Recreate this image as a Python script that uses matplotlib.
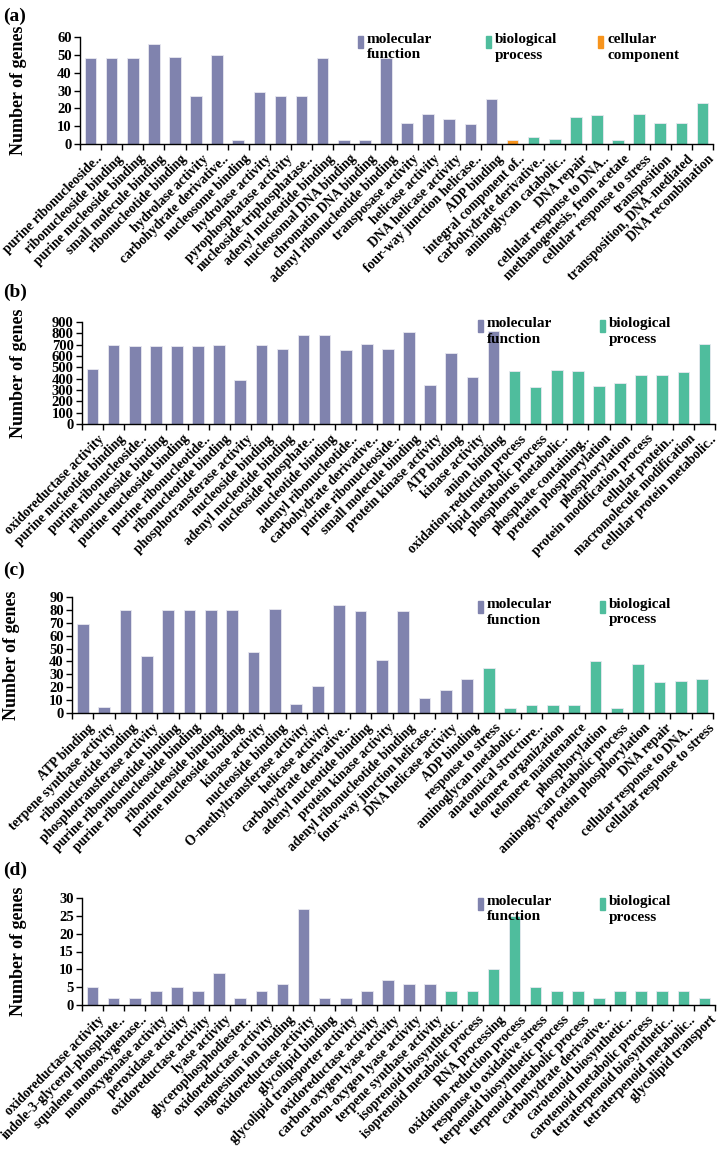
import matplotlib
matplotlib.use("Agg")
import matplotlib.pyplot as plt
from matplotlib.patches import Rectangle
from matplotlib.transforms import ScaledTranslation
import numpy as np

plt.rcParams["font.family"] = ["Liberation Serif", "DejaVu Serif"]
plt.rcParams["font.weight"] = "bold"
plt.rcParams["axes.labelweight"] = "bold"

PURPLE = "#8083AE"
GREEN = "#4FBD9D"
ORANGE = "#F7941D"

# ---- panel (a) ----------------------------------------------------------
a_labels = [
    "purine ribonucleoside..", "ribonucleoside binding", "purine nucleoside binding",
    "small molecule binding", "ribonucleotide binding", "hydrolase activity",
    "carbohydrate derivative..", "nucleosome binding", "hydrolase activity",
    "pyrophosphatase activity", "nucleoside-triphosphatase..", "adenyl nucleotide binding",
    "nucleosomal DNA binding", "chromatin DNA binding", "adenyl ribonucleotide binding",
    "transposase activity", "helicase activity", "DNA helicase activity",
    "four-way junction helicase..", "ADP binding", "integral component of..",
    "carbohydrate derivative..", "aminoglycan catabolic..", "DNA repair",
    "cellular response to DNA..", "methanogenesis, from acetate",
    "cellular response to stress", "transposition", "transposition, DNA-mediated",
    "DNA recombination",
]
a_values = [48, 48, 48, 56, 49, 27, 50, 2, 29, 27, 27, 48, 2, 2, 48, 12, 17, 14, 11, 25,
            2, 4, 3, 15, 16, 2, 17, 12, 12, 23]
a_groups = ["mf"] * 20 + ["cc"] + ["bp"] * 9

# ---- panel (b) ----------------------------------------------------------
b_labels = [
    "oxidoreductase activity", "purine nucleotide binding", "purine ribonucleoside..",
    "ribonucleoside binding", "purine nucleoside binding", "purine ribonucleotide..",
    "ribonucleotide binding", "phosphotransferase activity", "nucleoside binding",
    "adenyl nucleotide binding", "nucleoside phosphate..", "nucleotide binding",
    "adenyl ribonucleotide..", "carbohydrate derivative..", "purine ribonucleoside..",
    "small molecule binding", "protein kinase activity", "ATP binding",
    "kinase activity", "anion binding", "oxidation-reduction process",
    "lipid metabolic process", "phosphorus metabolic..", "phosphate-containing..",
    "protein phosphorylation", "phosphorylation", "protein modification process",
    "cellular protein..", "macromolecule modification", "cellular protein metabolic..",
]
b_values = [485, 700, 688, 688, 688, 690, 700, 385, 693, 662, 787, 787, 657, 710, 663,
            812, 345, 625, 413, 820, 470, 325, 475, 470, 333, 363, 430, 430, 458, 708]
b_groups = ["mf"] * 20 + ["bp"] * 10

# ---- panel (c) ----------------------------------------------------------
c_labels = [
    "ATP binding", "terpene synthase activity", "ribonucleotide binding",
    "phosphotransferase activity", "purine ribonucleotide binding",
    "purine ribonucleoside binding", "ribonucleoside binding", "purine nucleoside binding",
    "kinase activity", "nucleoside binding", "O-methyltransferase activity",
    "helicase activity", "carbohydrate derivative..", "adenyl nucleotide binding",
    "protein kinase activity", "adenyl ribonucleotide binding",
    "four-way junction helicase..", "DNA helicase activity", "ADP binding",
    "response to stress", "aminoglycan metabolic..", "anatomical structure..",
    "telomere organization", "telomere maintenance", "phosphorylation",
    "aminoglycan catabolic process", "protein phosphorylation", "DNA repair",
    "cellular response to DNA..", "cellular response to stress",
]
c_values = [69, 5, 80, 44, 80, 80, 80, 80, 47, 81, 7, 21, 84, 79, 41, 79, 12, 18, 26,
            35, 4, 6, 6, 6, 40, 4, 38, 24, 25, 26]
c_groups = ["mf"] * 19 + ["bp"] * 11

# ---- panel (d) ----------------------------------------------------------
d_labels = [
    "oxidoreductase activity", "indole-3-glycerol-phosphate..", "squalene monooxygenase..",
    "monooxygenase activity", "peroxidase activity", "oxidoreductase activity",
    "lyase activity", "glycerophosphodiester..", "oxidoreductase activity",
    "magnesium ion binding", "oxidoreductase activity", "glycolipid binding",
    "glycolipid transporter activity", "oxidoreductase activity",
    "carbon-oxygen lyase activity", "carbon-oxygen lyase activity",
    "terpene synthase activity", "isoprenoid biosynthetic..",
    "isoprenoid metabolic process", "RNA processing", "oxidation-reduction process",
    "response to oxidative stress", "terpenoid biosynthetic process",
    "terpenoid metabolic process", "carbohydrate derivative..",
    "carotenoid biosynthetic..", "carotenoid metabolic process",
    "tetraterpenoid biosynthetic..", "tetraterpenoid metabolic..", "glycolipid transport",
]
d_values = [5, 2, 2, 4, 5, 4, 9, 2, 4, 6, 27, 2, 2, 4, 7, 6, 6,
            4, 4, 10, 25, 5, 4, 4, 2, 4, 4, 4, 4, 2]
d_groups = ["mf"] * 17 + ["bp"] * 13

COLORS = {"mf": PURPLE, "bp": GREEN, "cc": ORANGE}

W, H = 718, 1149
fig = plt.figure(figsize=(W / 100, H / 100), dpi=100)


def px_axes(left, right, top, bottom):
    return fig.add_axes([left / W, 1 - bottom / H, (right - left) / W, (bottom - top) / H])


def legend_item(x, y, color, lines):
    fig.patches.append(Rectangle((x / W, 1 - (y + 15) / H), 5 / W, 12 / H,
                                 transform=fig.transFigure, color=color))
    fig.text((x + 9) / W, 1 - y / H, lines, fontsize=11, va="top", ha="left",
             linespacing=1.25, fontweight="bold")


def draw_panel(ax, labels, values, groups, ymax, ystep):
    x = np.arange(len(values))
    ax.bar(x, values, width=0.55, color=[COLORS[g] for g in groups],
           edgecolor="#E8E8F0", linewidth=0.6)
    ax.set_xlim(-0.5, len(values) - 0.5)
    ax.set_ylim(0, ymax)
    ax.set_yticks(np.arange(0, ymax + 1, ystep))
    ax.set_xticks(np.arange(-0.5, len(values)))
    ax.set_xticklabels([])
    ax.tick_params(axis="x", length=4, width=1, direction="out")
    ax.tick_params(axis="y", length=4, width=1, labelsize=10.5, pad=2)
    for t in ax.get_yticklabels():
        t.set_fontweight("bold")
    # category labels, anchored a little below/right of the tick like the source
    shift = ScaledTranslation(10 / 100, -13 / 100, fig.dpi_scale_trans)
    for i, lab in enumerate(labels):
        ax.text(i, 0, lab, transform=ax.get_xaxis_transform() + shift,
                rotation=45, ha="right", va="center", rotation_mode="anchor",
                fontsize=9.8, fontweight="bold")
    for s in ("top", "right"):
        ax.spines[s].set_visible(False)
    for s in ("left", "bottom"):
        ax.spines[s].set_linewidth(1.0)
    ax.set_ylabel("Number of genes", fontsize=13, fontweight="bold")


ax_a = px_axes(80, 713, 37, 144)
draw_panel(ax_a, a_labels, a_values, a_groups, 60, 10)
ax_b = px_axes(82, 715, 322, 424)
draw_panel(ax_b, b_labels, b_values, b_groups, 900, 100)
ax_c = px_axes(72, 713, 597, 713)
draw_panel(ax_c, c_labels, c_values, c_groups, 90, 10)
ax_d = px_axes(82, 715, 898, 1005)
draw_panel(ax_d, d_labels, d_values, d_groups, 30, 5)

for ax, xpx in ((ax_a, 27), (ax_b, 27), (ax_c, 20), (ax_d, 27)):
    bb = ax.get_position()
    ax.yaxis.set_label_coords((xpx / W - bb.x0) / bb.width, 0.5)

# panel letters
for letter, y in (("(a)", 16), ("(b)", 292), ("(c)", 570), ("(d)", 870)):
    fig.text(3 / W, 1 - y / H, letter, fontsize=14, va="center", ha="left",
             fontweight="bold")

# legends
legend_item(358, 33, PURPLE, "molecular\nfunction")
legend_item(486, 33, GREEN, "biological\nprocess")
legend_item(598, 33, ORANGE, "cellular\ncomponent")
for y in (317, 598, 895):
    legend_item(478, y, PURPLE, "molecular\nfunction")
    legend_item(600, y, GREEN, "biological\nprocess")

fig.savefig("out.png", dpi=100)
